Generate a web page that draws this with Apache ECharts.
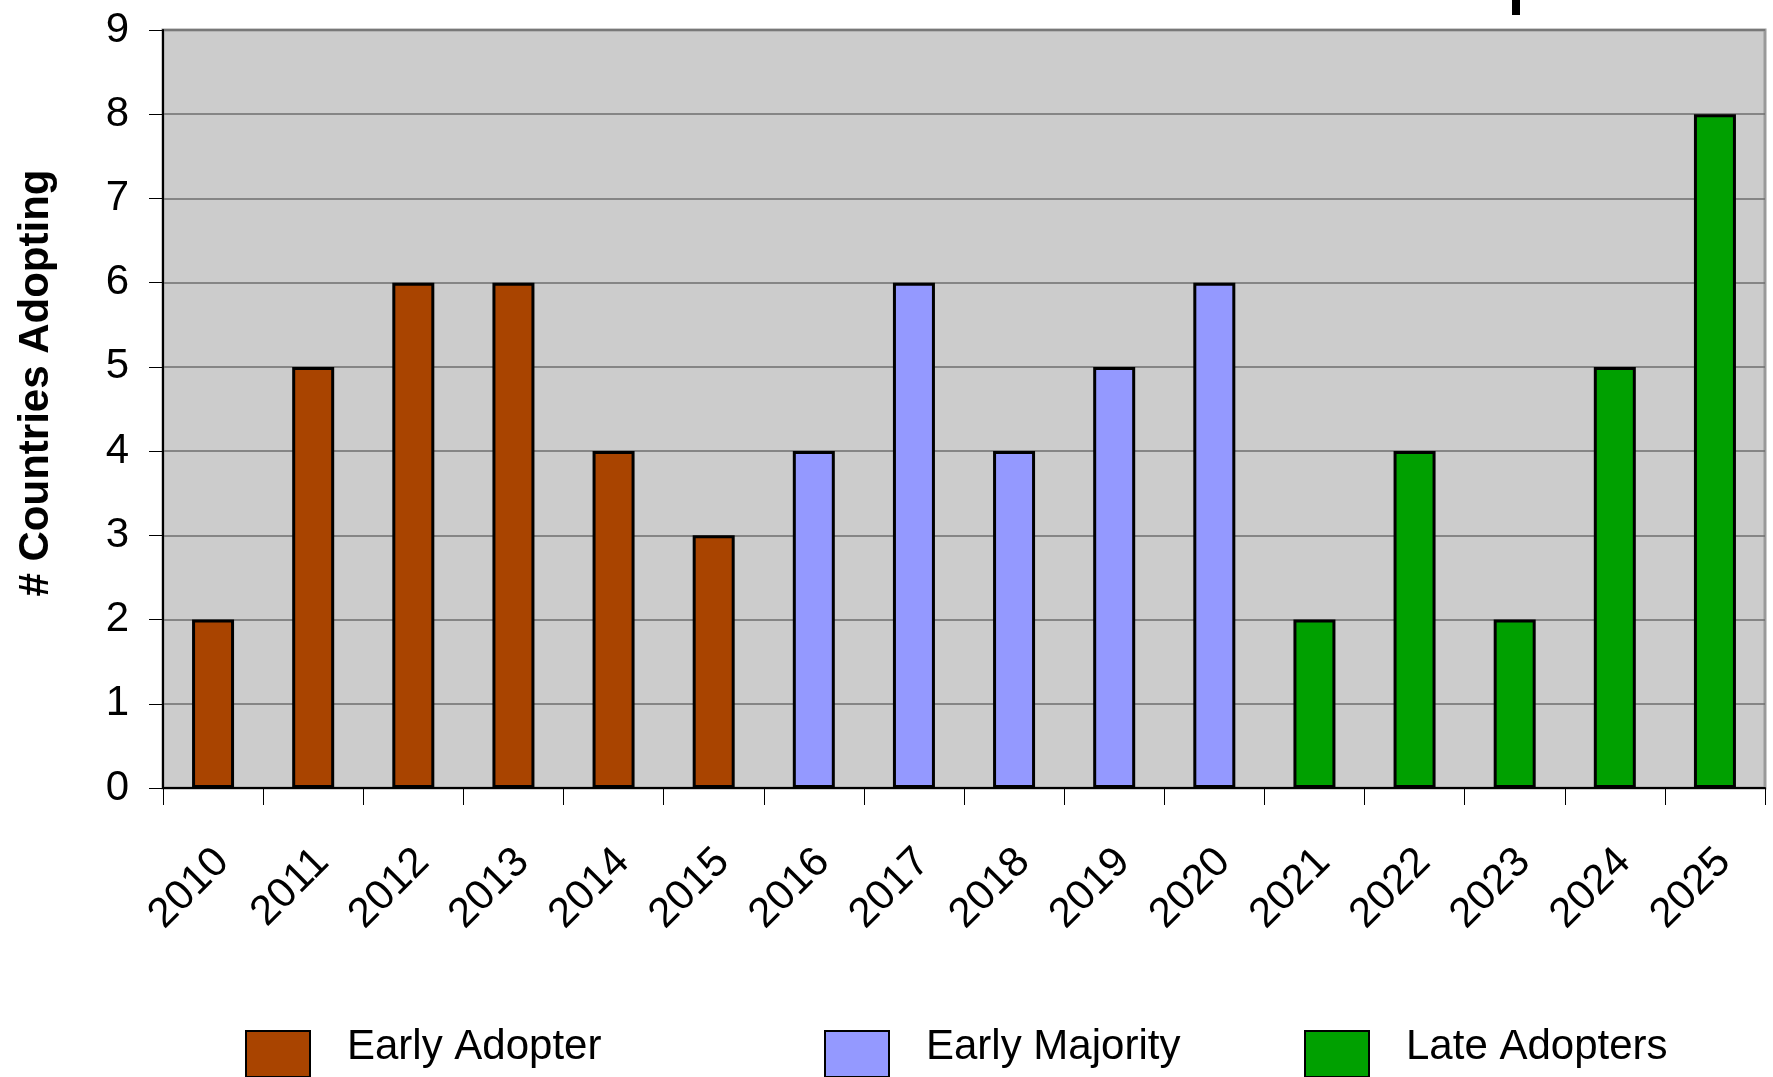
<!DOCTYPE html>
<html>
<head>
<meta charset="utf-8">
<script src="https://cdn.jsdelivr.net/npm/echarts@6/dist/echarts.min.js"></script>
<style>
  html, body { margin: 0; padding: 0; background: #ffffff; }
  #chart { width: 1773px; height: 1077px; }
</style>
</head>
<body>
<div id="chart"></div>
<script>
// Adoption year for each group of countries
const years = ['2010','2011','2012','2013','2014','2015','2016','2017',
               '2018','2019','2020','2021','2022','2023','2024','2025'];
const earlyAdopter  = [2, 5, 6, 6, 4, 3, null, null, null, null, null, null, null, null, null, null];
const earlyMajority = [null, null, null, null, null, null, 4, 6, 4, 5, 6, null, null, null, null, null];
const lateAdopters  = [null, null, null, null, null, null, null, null, null, null, null, 2, 4, 2, 5, 8];
const seriesNames = ['Early Adopter', 'Early Majority', 'Late Adopters'];
const seriesColors = ['#a94400', '#9499ff', '#00a000'];
const yAxisTitle = '# Countries Adopting';

const FONT = '"Liberation Sans", Arial, Helvetica, sans-serif';

const chart = echarts.init(document.getElementById('chart'), null, { renderer: 'canvas' });

function barSeries(name, data, color) {
  return {
    name: name,
    type: 'bar',
    stack: 'years',
    data: data,
    barWidth: 42,
    itemStyle: { color: color, borderColor: '#000000', borderWidth: 3 }
  };
}

// One legend block per group so the three entries can sit at their own offsets
function legendAt(name, left) {
  return {
    data: [name],
    left: left,
    top: 1026,
    padding: 0,
    itemWidth: 64,
    itemHeight: 46,
    icon: 'rect',
    selectedMode: false,
    formatter: '{n|{name}}',
    textStyle: {
      fontFamily: FONT,
      fontSize: 42,
      color: '#000000',
      padding: [0, 0, 0, 32],
      rich: {
        n: {
          fontFamily: FONT,
          fontSize: 42,
          color: '#000000',
          lineHeight: 42,
          padding: [0, 0, 14, 0]
        }
      }
    }
  };
}

chart.setOption({
  animation: false,
  backgroundColor: '#ffffff',
  grid: {
    left: 163,
    right: 8,
    top: 30,
    bottom: 289,
    show: true,
    backgroundColor: '#cccccc',
    borderColor: '#999999',
    borderWidth: 3
  },
  legend: [
    legendAt(seriesNames[0], 245),
    legendAt(seriesNames[1], 824),
    legendAt(seriesNames[2], 1304)
  ],
  graphic: [{
    type: 'rect',
    shape: { x: 1512, y: 0, width: 8, height: 15 },
    style: { fill: '#000000' },
    z: 10
  }],
  xAxis: {
    type: 'category',
    data: years,
    boundaryGap: true,
    axisLine: { show: true, lineStyle: { color: '#000000', width: 2 } },
    axisTick: { show: true, length: 17, lineStyle: { color: '#000000', width: 1 } },
    axisLabel: {
      rotate: 45,
      interval: 0,
      margin: 47,
      verticalAlign: 'top',
      padding: [0, 8, 0, 0],
      fontFamily: FONT,
      fontSize: 42,
      color: '#000000'
    },
    splitLine: { show: false }
  },
  yAxis: {
    type: 'value',
    min: 0,
    max: 9,
    interval: 1,
    name: yAxisTitle,
    nameLocation: 'middle',
    nameGap: 106,
    nameRotate: 90,
    nameTextStyle: {
      fontFamily: FONT,
      fontSize: 42,
      fontWeight: 'bold',
      color: '#000000',
      padding: [0, 0, 0, 52]
    },
    axisLine: { show: true, lineStyle: { color: '#000000', width: 2 } },
    axisTick: { show: true, length: 14, lineStyle: { color: '#000000', width: 1 } },
    axisLabel: {
      margin: 34,
      fontFamily: FONT,
      fontSize: 42,
      color: '#000000',
      padding: [0, 0, 14, 0]
    },
    splitLine: { show: true, lineStyle: { color: '#6e6e6e', width: 1.5 } }
  },
  series: [
    barSeries(seriesNames[0], earlyAdopter, seriesColors[0]),
    barSeries(seriesNames[1], earlyMajority, seriesColors[1]),
    barSeries(seriesNames[2], lateAdopters, seriesColors[2])
  ]
});
</script>
</body>
</html>
